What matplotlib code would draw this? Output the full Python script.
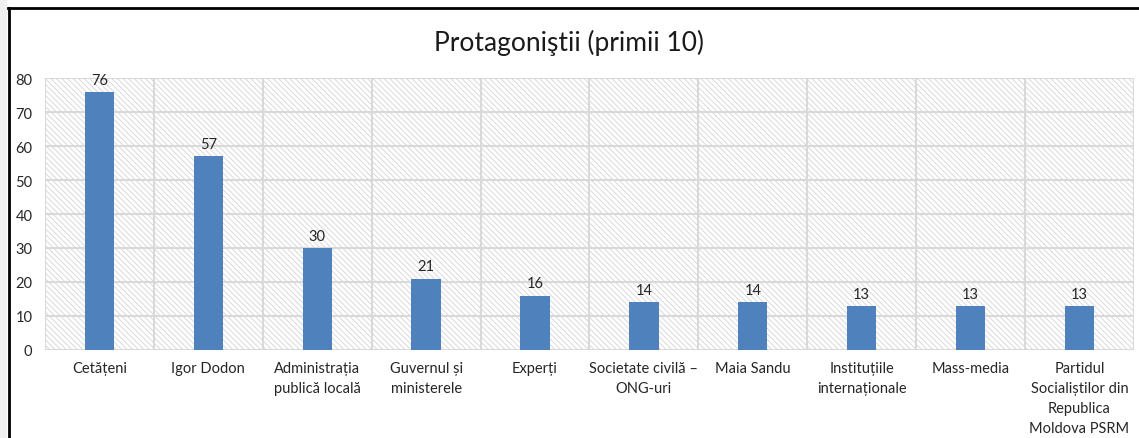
import numpy as np
import matplotlib.pyplot as plt
from matplotlib.patches import Rectangle
from matplotlib.lines import Line2D

plt.rcParams['font.family'] = ['Lato', 'DejaVu Sans']
plt.rcParams['hatch.color'] = '#d4d4d4'
plt.rcParams['hatch.linewidth'] = 0.6

categorii = ['Cetățeni', 'Igor Dodon', 'Administrația\npublică locală',
             'Guvernul și\nministerele', 'Experți', 'Societate civilă –\nONG-uri',
             'Maia Sandu', 'Instituțiile\ninternaționale', 'Mass-media',
             'Partidul\nSocialiștilor din\nRepublica\nMoldova PSRM']
valori = [76, 57, 30, 21, 16, 14, 14, 13, 13, 13]

fig = plt.figure(figsize=(11.39, 4.39), dpi=100)
ax = fig.add_axes([0.0395, 0.2005, 0.956, 0.6195])

x = np.arange(len(categorii))
ax.set_xlim(-0.5, len(categorii) - 0.5)
ax.set_ylim(0, 80)

# fundal hasurat
ax.add_patch(Rectangle((-0.5, 0), len(categorii), 80, facecolor='white',
                       edgecolor='#d4d4d4', hatch='\\\\\\\\\\\\', linewidth=0, zorder=0))

bars = ax.bar(x, valori, 0.27, color='#4f81bd', zorder=3)
for xi, v in zip(x, valori):
    ax.text(xi, v + 1.5, str(v), ha='center', va='bottom', fontsize=10.5, color='#262626')

ax.set_yticks(np.arange(0, 81, 10))
ax.set_xticks(x, categorii, fontsize=10.5, color='#262626', linespacing=1.55)
ax.set_xticks(np.arange(-0.5, len(categorii), 1), minor=True)
ax.tick_params(axis='both', which='both', length=0, labelsize=10.5, colors='#262626', pad=8)
ax.tick_params(axis='y', pad=9)
ax.grid(True, axis='y', color='#d9d9d9', linewidth=1.5, zorder=1)
ax.grid(True, axis='x', which='minor', color='#d9d9d9', linewidth=1.5, zorder=1)
ax.grid(False, axis='x', which='major')
for s in ax.spines.values():
    s.set_visible(False)

fig.text(0.5, 0.903, 'Protagoniştii (primii 10)', ha='center', va='center',
         fontsize=19, color='#1a1a1a')

# chenar
fig.add_artist(Rectangle((0, 0), 7 / 1139, 1, transform=fig.transFigure,
                         facecolor='#f0f0f0', edgecolor='none'))
fig.add_artist(Line2D([8.5 / 1139, 8.5 / 1139], [0, 1 - 8.5 / 439],
                      transform=fig.transFigure, color='black', linewidth=2))
fig.add_artist(Line2D([7.5 / 1139, 1], [1 - 8.5 / 439, 1 - 8.5 / 439],
                      transform=fig.transFigure, color='black', linewidth=2))

fig.savefig('out.png', dpi=100)
